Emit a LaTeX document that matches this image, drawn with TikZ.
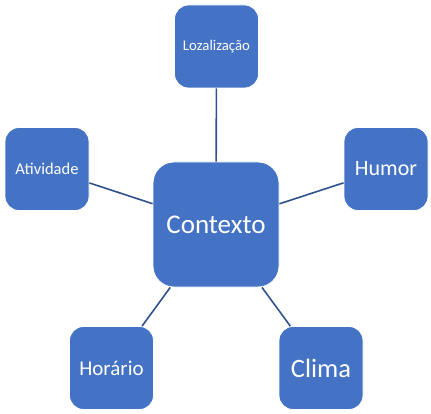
\documentclass[tikz,border=0pt]{standalone}
\usepackage{fontspec}
\setmainfont{Carlito}
\definecolor{boxblue}{HTML}{4472C4}
\definecolor{lineblue}{HTML}{2F528F}
\begin{document}
\begin{tikzpicture}[x=1pt,y=-1pt,
  box/.style={draw=white,line width=0.8pt,fill=boxblue,text=white,rounded corners=14pt,
    inner sep=0pt,minimum width=84pt,minimum height=83pt,align=center},
  link/.style={draw=lineblue,line width=1.6pt}]
\useasboundingbox (0,0) rectangle (431,414);
\node[box,minimum width=126pt,minimum height=125pt,rounded corners=21pt,font=\fontsize{27}{31}\selectfont] (ctx) at (216,224.5) {Contexto};
\node[box,font=\fontsize{14.8}{17}\selectfont] (loz) at (216.5,46.5) {Lozalização};
\node[box,font=\fontsize{16.5}{19}\selectfont] (ati) at (47,169) {Atividade};
\node[box,font=\fontsize{22}{26}\selectfont] (hum) at (386,169) {Humor};
\node[box,font=\fontsize{21}{25}\selectfont] (hor) at (111.5,368) {Horário};
\node[box,font=\fontsize{26.5}{30}\selectfont] (cli) at (321,368) {Clima};
\draw[link] (loz) -- (ctx);
\draw[link] (ati) -- (ctx);
\draw[link] (hum) -- (ctx);
\draw[link] (hor) -- (ctx);
\draw[link] (cli) -- (ctx);
\end{tikzpicture}
\end{document}
